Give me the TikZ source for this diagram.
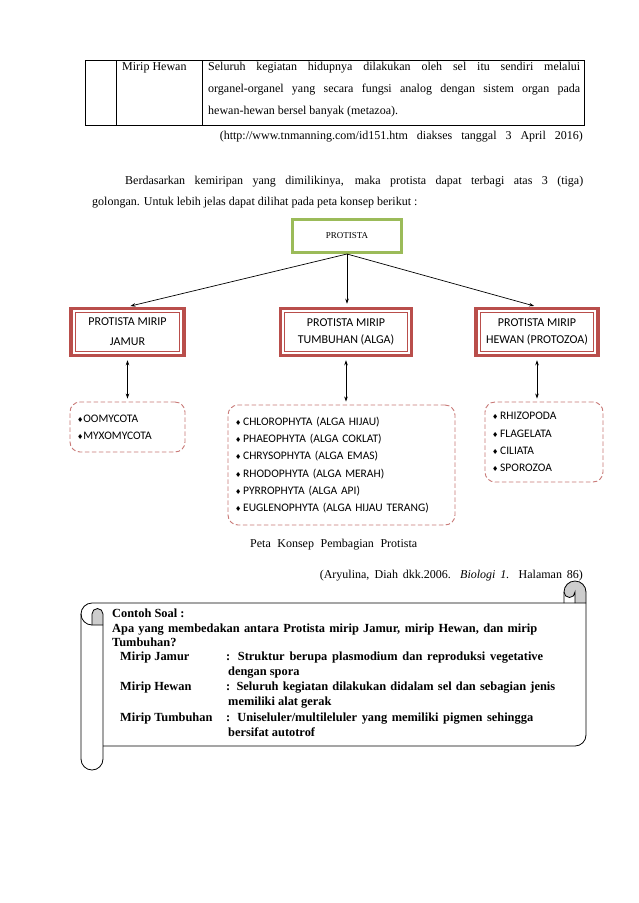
\documentclass[tikz,border=0pt]{standalone}
\usepackage{fontspec}
\setmainfont{Liberation Serif}
\newfontfamily\calibri{Carlito}
\newfontfamily\symfont{DejaVu Sans}
\usetikzlibrary{arrows.meta, calc}
\definecolor{protgreen}{RGB}{155, 187, 89}
\definecolor{boxred}{RGB}{185, 78, 75}
\definecolor{dashred}{RGB}{200, 120, 118}
\definecolor{rollgray}{RGB}{205, 205, 205}
\newcommand{\dmd}{{\symfont\fontsize{7}{7}\selectfont ♦}}

\begin{document}
\begin{tikzpicture}[x=1pt, y=1pt,
    body/.style={font=\fontsize{12}{14}\selectfont, anchor=west, inner sep=0pt},
    soal/.style={font=\bfseries\fontsize{12.4}{14}\selectfont, anchor=base west, inner sep=0pt},
    groupbox/.style={draw=boxred, line width=3.5pt, fill=white, align=center,
        minimum height=47pt, font=\calibri\fontsize{12}{16.5}\selectfont},
    listbox/.style={draw=dashred, line width=0.9pt, dash pattern=on 4.5pt off 2.5pt,
        rounded corners=10pt, align=left, inner xsep=7pt,
        font=\calibri\fontsize{11.5}{17.2}\selectfont},
    arr/.style={-{Stealth[length=5pt, width=3.5pt]}, line width=0.7pt, shorten >=3pt},
    arrboth/.style={{Stealth[length=5pt, width=3.5pt]}-{Stealth[length=5pt, width=3.5pt]},
        line width=0.7pt, shorten >=3pt, shorten <=3pt}]
    \fill[white] (0,0) rectangle (638,-903);

    % last row of the table
    \draw[line width=0.8pt] (85,-60) rectangle (584,-125);
    \draw[line width=0.8pt] (116,-60) -- (116,-125) (202,-60) -- (202,-125);
    \node[body] (hewanname) at (122,-68) {Mirip Hewan};
    \node[body] (hewanrow1) at (208,-68)
        {\makebox[372pt][s]{Seluruh kegiatan hidupnya dilakukan oleh sel itu sendiri melalui}};
    \node[body] (hewanrow2) at (208,-90)
        {\makebox[372pt][s]{organel-organel yang secara fungsi analog dengan sistem organ pada}};
    \node[body] (hewanrow3) at (208,-112) {hewan-hewan bersel banyak (metazoa).};
    \node[body, anchor=east] (webref) at (583,-137)
        {\makebox[363pt][s]{(http://www.tnmanning.com/id151.htm diakses tanggal 3 April 2016)}};

    \node[body] (para1) at (125,-182)
        {\makebox[458pt][s]{Berdasarkan kemiripan yang dimilikinya, maka protista dapat terbagi atas 3 (tiga)}};
    \node[body] (para2) at (92,-203) {golongan. Untuk lebih jelas dapat dilihat pada peta konsep berikut :};

    % concept map
    \node[draw=protgreen, line width=3pt, minimum width=109pt, minimum height=33pt,
        font=\fontsize{9}{9}\selectfont] (protista) at (347,-236) {PROTISTA};

    \node[groupbox, minimum width=113pt, font=\calibri\fontsize{12}{20}\selectfont]
        (jamur) at (127.5,-332) {PROTISTA MIRIP\\JAMUR};
    \node[groupbox, minimum width=131pt] (alga) at (346,-332) {PROTISTA MIRIP\\TUMBUHAN (ALGA)};
    \node[groupbox, minimum width=122pt] (hewan) at (537,-332) {PROTISTA MIRIP\\HEWAN (PROTOZOA)};
    \foreach \b in {jamur, alga, hewan}
        \draw[boxred, line width=0.7pt] ([shift={(6pt,-6pt)}]\b.north west)
            rectangle ([shift={(-6pt,6pt)}]\b.south east);

    \node[listbox, minimum width=115pt, minimum height=50pt, text width=101pt]
        (jamurlist) at (127.5,-427) {\dmd OOMYCOTA\\\dmd MYXOMYCOTA};
    \node[listbox, minimum width=227pt, minimum height=120pt, text width=213pt]
        (algalist) at (341.5,-465) {\dmd\,CHLOROPHYTA (ALGA HIJAU)\\
            \dmd\,PHAEOPHYTA (ALGA COKLAT)\\
            \dmd\,CHRYSOPHYTA (ALGA EMAS)\\
            \dmd\,RHODOPHYTA (ALGA MERAH)\\
            \dmd\,PYRROPHYTA (ALGA API)\\
            \dmd\,EUGLENOPHYTA (ALGA HIJAU TERANG)};
    \node[listbox, minimum width=118pt, minimum height=80pt, text width=104pt]
        (hewanlist) at (544,-442) {\dmd\,RHIZOPODA\\\dmd\,FLAGELATA\\\dmd\,CILIATA\\\dmd\,SPOROZOA};

    \draw[arr] (protista.south) -- (jamur.north);
    \draw[arr] (protista.south) -- (protista.south |- alga.north);
    \draw[arr] (protista.south) -- (hewan.north);
    \draw[arrboth] (jamur.south) -- (jamurlist.north);
    \draw[arrboth] (alga.south) -- (alga.south |- algalist.north);
    \draw[arrboth] (hewan.south) -- (hewan.south |- hewanlist.north);

    \node[body] (caption) at (250,-545) {\makebox[167pt][s]{Peta Konsep Pembagian Protista}};
    \node[body, anchor=east] (bookref) at (583,-576)
        {\makebox[263pt][s]{(Aryulina, Diah dkk.2006. \textit{Biologi 1.} Halaman 86)}};

    % scroll
    \fill[rollgray] (564,-592) arc[start angle=180, end angle=0, radius=11] -- (586,-603)
        -- (575,-603) -- (575,-592) arc[start angle=0, end angle=-180, radius=5.5] -- cycle;
    \fill[rollgray] (92,-625) -- (92,-614) arc[start angle=180, end angle=0, radius=5.5]
        -- (103,-625) -- cycle;
    \begin{scope}[line width=0.8pt]
        \draw (81,-759) -- (81,-614) arc[start angle=180, end angle=90, radius=11] -- (586,-603);
        \draw (81,-614) arc[start angle=180, end angle=270, radius=11] -- (103,-625);
        \draw (92,-625) -- (92,-614) arc[start angle=180, end angle=0, radius=5.5];
        \draw (103,-614) -- (103,-759) arc[start angle=0, end angle=-180, radius=11];
        \draw (103,-746) -- (575,-746) arc[start angle=270, end angle=360, radius=11] -- (586,-592);
        \draw (564,-603) -- (564,-592) arc[start angle=180, end angle=0, radius=11];
        \draw (575,-603) -- (575,-592) arc[start angle=0, end angle=-180, radius=5.5];
    \end{scope}

    \node[soal] (soal0) at (112,-617) {Contoh Soal :};
    \node[soal] (soal1) at (112,-632)
        {\makebox[425pt][s]{Apa yang membedakan antara Protista mirip Jamur, mirip Hewan, dan mirip}};
    \node[soal] (soal2) at (112,-646) {Tumbuhan?};
    \node[soal] (jamurkey) at (120,-660) {Mirip Jamur};
    \node[soal] (jamurval) at (226,-660)
        {\makebox[317pt][s]{: Struktur berupa plasmodium dan reproduksi vegetative}};
    \node[soal] (jamurval2) at (228,-675) {dengan spora};
    \node[soal] (hewankey) at (120,-690) {Mirip Hewan};
    \node[soal] (hewanval) at (226,-690)
        {\makebox[329pt][s]{: Seluruh kegiatan dilakukan didalam sel dan sebagian jenis}};
    \node[soal] (hewanval2) at (228,-705) {memiliki alat gerak};
    \node[soal] (algakey) at (120,-721) {Mirip Tumbuhan};
    \node[soal] (algaval) at (226,-721)
        {\makebox[307pt][s]{: Uniseluler/multileluler yang memiliki pigmen sehingga}};
    \node[soal] (algaval2) at (228,-736) {bersifat autotrof};
\end{tikzpicture}
\end{document}
